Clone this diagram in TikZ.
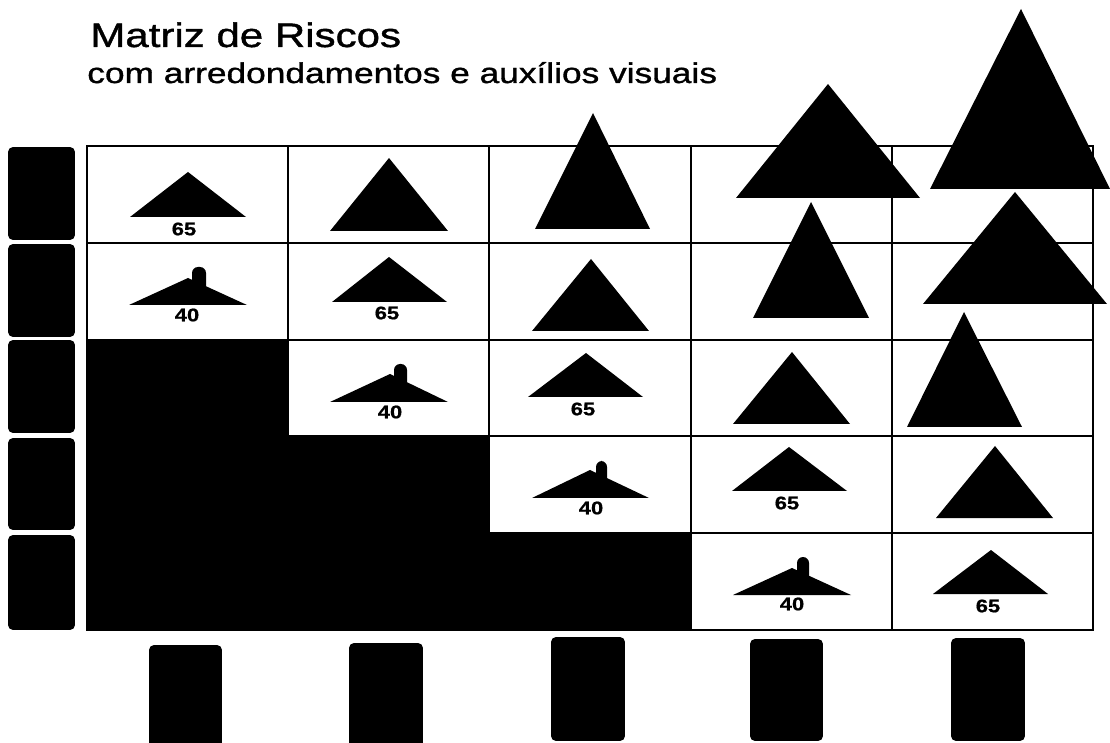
\documentclass[tikz,border=0pt]{standalone}
\usepackage{fontspec}
\usepackage{tikz}
\usetikzlibrary{matrix}
\newfontfamily\widesans[FakeStretch=1.24,FakeBold=1.2]{Liberation Sans}
\newfontfamily\widenum[FakeStretch=1.2,FakeBold=0.8]{Liberation Sans Bold}

\begin{document}
\begin{tikzpicture}[x=0.02cm, y=-0.02cm,
  cell/.style={draw, line width=1.1pt, inner sep=0pt, outer sep=0pt,
    minimum width=4.024cm, minimum height=1.936cm},
  dark/.style={fill=black},
  tri/.style={fill=black},
  knob/.style={fill=black, rounded corners=0.12cm},
  hdr/.style={fill=black, rounded corners=0.1cm, inner sep=0pt},
  num/.style={font=\widenum\fontsize{10.4}{12}\selectfont, inner sep=0pt},
  title/.style={font=\widesans\fontsize{19.3}{23}\selectfont, inner sep=0pt, anchor=base west},
  subtitle/.style={font=\widesans\fontsize{16.2}{19}\selectfont, inner sep=0pt, anchor=base west}]
  \useasboundingbox (0,0) rectangle (1110,743);

  \node[title] (title) at (90,47) {Matriz de Riscos};
  \node[subtitle] (subtitle) at (87,83) {com arredondamentos e auxílios visuais};

  \matrix (M) at (590,388) [matrix of nodes, nodes in empty cells,
  nodes={cell},
  column sep={4.024cm,between origins},
  row sep={1.936cm,between origins}
  ]{              &               &               & & \\
                  &               &               & & \\
    |[dark]|      &               &               & & \\
    |[dark]|      & |[dark]|      &               & & \\
    |[dark]|      & |[dark]|      & |[dark]|      & & \\
  };

  % row headers
  \node[hdr, minimum width=1.34cm, minimum height=1.86cm] (r1) at (41.5,193.5) {};
  \node[hdr, minimum width=1.34cm, minimum height=1.86cm] (r2) at (41.5,290.5) {};
  \node[hdr, minimum width=1.34cm, minimum height=1.86cm] (r3) at (41.5,386.5) {};
  \node[hdr, minimum width=1.34cm, minimum height=1.84cm] (r4) at (41.5,484) {};
  \node[hdr, minimum width=1.34cm, minimum height=1.90cm] (r5) at (41.5,582.5) {};

  % column headers
  \node[hdr, minimum width=1.46cm, minimum height=2.30cm] (c1) at (185.5,702.5) {};
  \node[hdr, minimum width=1.48cm, minimum height=2.34cm] (c2) at (386,701.5) {};
  \node[hdr, minimum width=1.48cm, minimum height=2.08cm] (c3) at (588,689) {};
  \node[hdr, minimum width=1.46cm, minimum height=2.04cm] (c4) at (786.5,690) {};
  \node[hdr, minimum width=1.48cm, minimum height=2.06cm] (c5) at (988,689.5) {};

  % row 1
  \fill[tri] (130,217) -- (188,172) -- (246,217) -- cycle;
  \fill[tri] (330,231) -- (389,158) -- (448,231) -- cycle;
  \fill[tri] (535,229) -- (593,113) -- (650,229) -- cycle;
  \fill[tri] (736,198) -- (828,84) -- (920,198) -- cycle;
  \fill[tri] (930,189) -- (1021,9) -- (1110,189) -- cycle;
  \node[num] (n11) at (184,229) {65};

  % row 2
  \fill[tri] (129,305) -- (188,278) -- (247,305) -- cycle;
  \fill[knob] (192,292) rectangle (206,267);
  \fill[tri] (332,302) -- (389,257) -- (447,302) -- cycle;
  \fill[tri] (532,331) -- (591,259) -- (649,331) -- cycle;
  \fill[tri] (753,318) -- (811,202) -- (869,318) -- cycle;
  \fill[tri] (923,304) -- (1015,192) -- (1107,304) -- cycle;
  \node[num] (n21) at (187,315) {40};
  \node[num] (n22) at (387,313) {65};

  % row 3
  \fill[tri] (330,402) -- (390,374) -- (448,402) -- cycle;
  \fill[knob] (394,388) rectangle (407,364);
  \fill[tri] (528,397) -- (586,353) -- (643,397) -- cycle;
  \fill[tri] (733,424) -- (792,352) -- (850,424) -- cycle;
  \fill[tri] (907,427) -- (964,312) -- (1022,427) -- cycle;
  \node[num] (n32) at (390,412) {40};
  \node[num] (n33) at (583,409) {65};

  % row 4
  \fill[tri] (532,498) -- (590,470) -- (649,498) -- cycle;
  \fill[knob] (596,484) rectangle (607,461);
  \fill[tri] (732,491) -- (789,447) -- (847,491) -- cycle;
  \fill[tri] (936,518) -- (995,446) -- (1053,518) -- cycle;
  \node[num] (n43) at (591,508) {40};
  \node[num] (n44) at (787,503) {65};

  % row 5
  \fill[tri] (733,595) -- (792,568) -- (851,595) -- cycle;
  \fill[knob] (797,582) rectangle (809,557);
  \fill[tri] (933,594) -- (991,550) -- (1048,594) -- cycle;
  \node[num] (n54) at (792,604) {40};
  \node[num] (n55) at (988,606) {65};
\end{tikzpicture}
\end{document}
